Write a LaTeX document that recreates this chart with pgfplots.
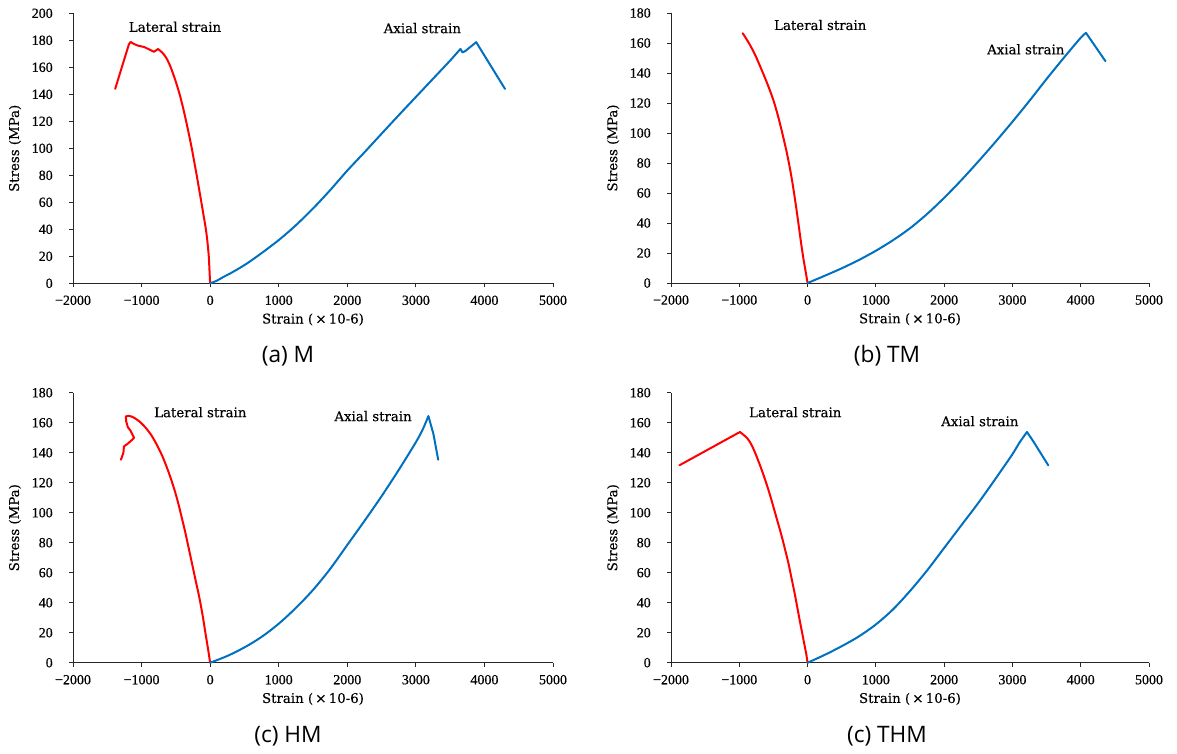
\documentclass[border=0pt]{standalone}
\usepackage{fontspec}
\setmainfont{Liberation Serif}[RawFeature={embolden=0.6}]
\newfontfamily\labfont{DejaVu Serif}[RawFeature={embolden=0.3}]
\newfontfamily\capfont{Open Sans}
\usepackage{pgfplots}
\pgfplotsset{compat=1.18}
\definecolor{lred}{RGB}{255,0,0}
\definecolor{ablue}{RGB}{0,112,192}
\tikzset{ann/.style={font=\labfont\fontsize{10}{12}\selectfont}}
\pgfplotsset{
  panel/.style={
    scale only axis, height=202.5pt, xmin=-2000, xmax=5000, ymin=0,
    axis lines=left, axis line style={-, black!85, line width=0.75pt},
    xtick={-2000,-1000,0,1000,2000,3000,4000,5000},
    xticklabels={−2000,−1000,0,1000,2000,3000,4000,5000},
    tick align=outside, major tick length=3pt,
    tick style={black!85, line width=0.75pt},
    xticklabel style={font=\fontsize{10.5}{12}\selectfont, inner sep=0pt, anchor=north, yshift=-6pt},
    yticklabel style={font=\fontsize{10.5}{12}\selectfont, inner sep=0pt, anchor=east, xshift=-12pt},
    xlabel={Strain (\,×\,10-6)}, ylabel={Stress (MPa)},
    every axis x label/.style={at={(axis description cs:0.5,-0.134)}, anchor=center, font=\labfont\fontsize{10}{12}\selectfont},
    every axis y label/.style={at={(axis description cs:-0.121,0.5)}, rotate=90, anchor=center, font=\labfont\fontsize{10}{12}\selectfont},
    clip=false,
  },
  lat/.style={lred, line width=1.5pt, no markers, line join=round, line cap=round},
  axi/.style={ablue, line width=1.5pt, no markers, line join=round, line cap=round},
  y180/.style={ymax=180, ytick={0,20,40,60,80,100,120,140,160,180}, yticklabels={0,20,40,60,80,100,120,140,160,180}},
}
\begin{document}
\begin{tikzpicture}
\useasboundingbox (0,0) rectangle (882.75pt,-564.75pt);
% (a) M
\begin{axis}[panel, width=360pt, at={(54.75pt,-212.475pt)}, anchor=south west,
  ymax=200, ytick={0,20,40,60,80,100,120,140,160,180,200}, yticklabels={0,20,40,60,80,100,120,140,160,180,200}]
\addplot[lat, smooth, tension=0.5] coordinates {(0,0) (-8,8) (-20,20) (-38,30) (-62,40) (-95,50) (-128,60) (-162,70) (-196,80) (-232,90) (-268,100) (-308,110) (-350,120) (-395,130) (-445,140) (-505,150) (-575,160) (-640,167) (-700,171) (-760,173.5)};
\addplot[lat] coordinates {(-760,173.5) (-790,172.5) (-820,171.5) (-860,172.5) (-900,173.5) (-960,175) (-1050,176) (-1120,177.5) (-1160,178.8) (-1185,177) (-1385,144)};
\addplot[axi, smooth, tension=0.5] coordinates {(0,0) (100,2) (200,4.9) (300,7.5) (500,13.5) (700,20.5) (1000,32) (1250,43) (1500,55.4) (1750,69) (2000,83.5) (2250,97) (2500,110.8) (2750,124.5) (3000,138) (3250,151.5) (3500,165) (3650,173.6)};
\addplot[axi] coordinates {(3650,173.6) (3680,171) (3720,172) (3780,174.5) (3880,178.6) (4300,144)};
\node[ann] at (axis cs:-512,190) {Lateral strain};
\node[ann] at (axis cs:3095,189) {Axial strain};
\end{axis}
% (b) TM
\begin{axis}[panel, width=358.5pt, at={(503.25pt,-212.25pt)}, anchor=south west, y180]
\addplot[lat, smooth, tension=0.5] coordinates {(0,0) (-33,8.9) (-60,16) (-88,24.4) (-120,35) (-153,46) (-190,57.5) (-224,67.5) (-265,78) (-307,87.5) (-350,96) (-389,103.5) (-440,112.5) (-498,121.5) (-565,130) (-635,138) (-700,145) (-772,152.5) (-860,160) (-950,166.5)};
\addplot[axi, smooth, tension=0.5] coordinates {(0,0) (250,4.8) (500,9.8) (750,15.3) (1000,21.5) (1250,28.5) (1500,36.5) (1750,46) (2000,56.8) (2250,68.5) (2500,81) (2750,94) (3000,107.5) (3250,121.5) (3500,136) (3750,150) (4000,163.5) (4078,166.7)};
\addplot[axi] coordinates {(4078,166.7) (4362,147.9)};
\node[ann] at (axis cs:186,172) {Lateral strain};
\node[ann] at (axis cs:3196,155.8) {Axial strain};
\end{axis}
% (c) HM
\begin{axis}[panel, width=360pt, at={(54.75pt,-497.025pt)}, anchor=south west, y180]
\addplot[lat, smooth, tension=0.5] coordinates {(0,0) (-30,9) (-66,19) (-95,27.5) (-121,34.5) (-160,44) (-203,53) (-245,62) (-285,70.5) (-325,79) (-368,88) (-410,96) (-450,103.5) (-490,110.5) (-532,117) (-590,125) (-642,131.5) (-700,138) (-752,143) (-810,148) (-862,152) (-920,155.5) (-971,158.2) (-1030,160.8) (-1081,162.5) (-1140,164) (-1191,164.6)};
\addplot[lat] coordinates {(-1191,164.6) (-1229,164.2) (-1225,161) (-1200,157) (-1164,154.9) (-1120,151) (-1109,150) (-1140,148.5) (-1202,146) (-1257,144.2) (-1265,140) (-1301,135.3)};
\addplot[axi, smooth, tension=0.5] coordinates {(0,0) (250,4.5) (500,10.2) (750,17.2) (1000,26) (1250,36.5) (1500,48.5) (1750,62.5) (2000,78.5) (2250,94.5) (2500,111) (2750,128.5) (3000,147) (3100,155.5) (3183,164.4)};
\addplot[axi] coordinates {(3183,164.4) (3255,152.7) (3326,135.3)};
\node[ann] at (axis cs:-143,167) {Lateral strain};
\node[ann] at (axis cs:2376,164.4) {Axial strain};
\end{axis}
% (d) THM
\begin{axis}[panel, width=358.5pt, at={(503.25pt,-497.025pt)}, anchor=south west, y180]
\addplot[lat, smooth, tension=0.5] coordinates {(0,0) (-20,6) (-49,12.7) (-80,20) (-115,28.2) (-155,38) (-197,48) (-238,57) (-279,66) (-335,76.5) (-389,86) (-445,95) (-498,103.5) (-565,114) (-635,123.8) (-700,132) (-772,140.4) (-830,146) (-881,149.5) (-940,152) (-991,153.8)};
\addplot[lat] coordinates {(-991,153.8) (-1877,131.6)};
\addplot[axi, smooth, tension=0.5] coordinates {(0,0) (250,5.2) (500,11) (750,17.5) (1000,25.5) (1250,35.5) (1500,47.8) (1750,61.5) (2000,76.5) (2250,91.5) (2500,106.5) (2750,122.5) (3000,139) (3100,146.5) (3213,153.8)};
\addplot[axi] coordinates {(3213,153.8) (3300,148) (3525,131.6)};
\node[ann] at (axis cs:-180,167) {Lateral strain};
\node[ann] at (axis cs:2523,161) {Axial strain};
\end{axis}
% captions
\node[font=\capfont\fontsize{17}{20}\selectfont] at (216pt,-267pt) {(a) M};
\node[font=\capfont\fontsize{17}{20}\selectfont] at (665.25pt,-267pt) {(b) TM};
\node[font=\capfont\fontsize{17}{20}\selectfont] at (216pt,-552pt) {(c) HM};
\node[font=\capfont\fontsize{17}{20}\selectfont] at (665.25pt,-552pt) {(c) THM};
\end{tikzpicture}
\end{document}
